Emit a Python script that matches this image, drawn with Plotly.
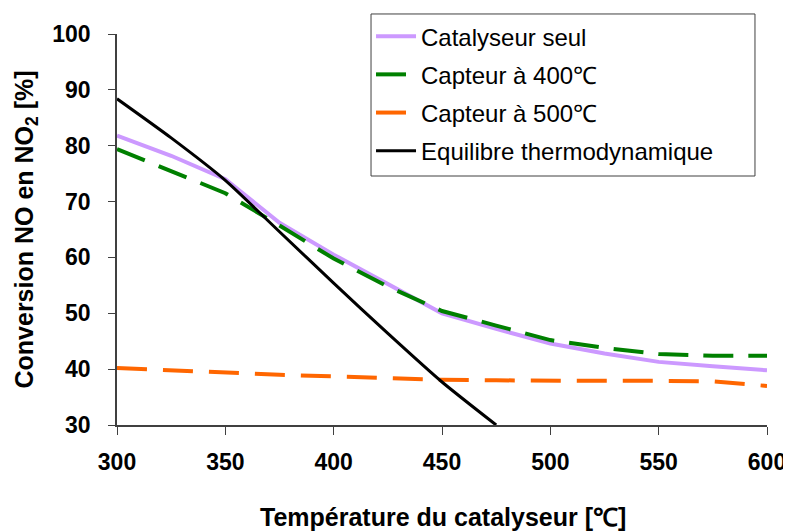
import plotly.graph_objects as go

temp = [300, 325, 350, 375, 400, 425, 450, 475, 500, 525, 550, 575, 600]
catalyseur_seul = [81.8, 78.2, 74.0, 66.2, 60.5, 55.3, 50.0, 47.2, 44.6, 42.8, 41.3, 40.5, 39.8]
capteur_400 = [79.4, 75.4, 71.5, 65.7, 59.8, 54.8, 50.4, 47.8, 45.2, 43.8, 42.7, 42.4, 42.4]
capteur_500 = [40.2, 39.8, 39.3, 39.0, 38.7, 38.4, 38.1, 38.0, 37.9, 37.9, 37.9, 37.8, 37.0]

temp_eq = [300, 325, 350, 375, 400, 425, 450, 475]
equilibre = [88.4, 81.4, 73.8, 64.6, 55.4, 46.4, 37.7, 30.0]

x_title = "Température du catalyseur [℃]"
y_title = "Conversion NO en NO<sub>2</sub> [%]"

font_family = "Liberation Sans, Arial, sans-serif"

fig = go.Figure()
fig.add_trace(go.Scatter(x=temp, y=catalyseur_seul, name="Catalyseur seul", mode="lines",
                         line=dict(color="#CC99FF", width=4), legendgroup="a"))
fig.add_trace(go.Scatter(x=temp, y=capteur_400, name="Capteur à 400℃", mode="lines",
                         line=dict(color="#008000", width=4, dash="30px,15px"), legendgroup="b"))
fig.add_trace(go.Scatter(x=temp, y=capteur_500, name="Capteur à 500℃", mode="lines",
                         line=dict(color="#FF6600", width=4, dash="30px,16px"), legendgroup="c"))
fig.add_trace(go.Scatter(x=temp_eq, y=equilibre, name="Equilibre thermodynamique", mode="lines",
                         line=dict(color="black", width=3, shape="spline", smoothing=0.6),
                         legendgroup="d"))

# legend frame drawn as a shape so it can be wider than the text
fig.add_shape(type="rect", xref="paper", yref="paper",
              x0=0.3908, x1=0.9815, y0=0.6368, y1=1.0512,
              line=dict(color="#404040", width=1), fillcolor="white", layer="above")

# axis titles as annotations (fixed positions)
fig.add_annotation(text=x_title, xref="paper", yref="paper", x=0.5015, y=-0.2353,
                   xanchor="center", yanchor="middle", showarrow=False,
                   font=dict(size=25, weight="bold"))
fig.add_annotation(text=y_title, xref="paper", yref="paper", x=-0.1415, y=0.5,
                   xanchor="center", yanchor="middle", showarrow=False, textangle=-90,
                   font=dict(size=25, weight="bold"))

# the page body adds an 8px offset at top/left
fig.update_layout(
    width=783, height=523,
    margin=dict(l=109, r=24, t=26, b=106, autoexpand=False),
    plot_bgcolor="white", paper_bgcolor="white",
    font=dict(family=font_family, color="black"),
    showlegend=True,
    legend=dict(x=0.3908, y=1.051, xanchor="left", yanchor="top",
                borderwidth=0, bgcolor="rgba(0,0,0,0)",
                font=dict(size=24, family=font_family), tracegroupgap=4,
                itemwidth=40),
)
fig.update_xaxes(range=[300, 600], dtick=50, showgrid=False, zeroline=False,
                 showline=True, linecolor="#404040", linewidth=1.5,
                 ticks="outside", ticklen=8, tickcolor="#404040",
                 tickfont=dict(size=23, family=font_family, weight="bold"),
                 ticklabelstandoff=8, ticklabeloverflow="allow", automargin=False)
fig.update_yaxes(range=[30, 100], dtick=10, showgrid=False, zeroline=False,
                 showline=True, linecolor="#404040", linewidth=1.5,
                 ticks="outside", ticklen=7, tickcolor="#404040",
                 tickfont=dict(size=23, family=font_family, weight="bold"),
                 ticklabelstandoff=13, ticklabeloverflow="allow", automargin=False)

fig.write_html("out.html")
